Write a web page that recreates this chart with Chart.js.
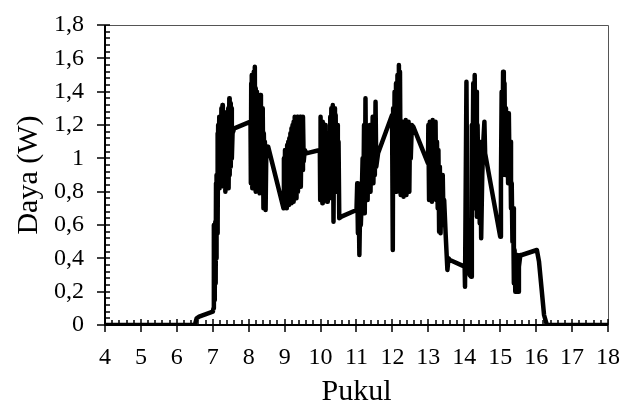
<!DOCTYPE html>
<html>
<head>
<meta charset="utf-8">
<script src="https://cdn.jsdelivr.net/npm/chart.js@4.4.1/dist/chart.umd.min.js"></script>
<style>
  body { margin: 0; background: #fff; }
  canvas { display: block; }
</style>
</head>
<body>
<canvas id="dayaChart" width="622" height="410"></canvas>
<script>
// jam (Pukul, decimal hours) and daya (W)
const jam = [
  4, 5, 6, 6.5, 6.55, 6.62, 7.0,
  7.02, 7.03, 7.04, 7.05, 7.06, 7.07, 7.08, 7.09, 7.10, 7.11, 7.12, 7.13, 7.14, 7.15, 7.16, 7.18, 7.19, 7.21, 7.22, 7.24,
  7.25, 7.27, 7.28, 7.30, 7.31, 7.33, 7.35, 7.37, 7.38, 7.40, 7.41, 7.43, 7.44, 7.46, 7.47, 7.49, 7.50, 7.52, 7.53, 7.55, 7.60,
  8.05, 8.06, 8.07, 8.08, 8.09, 8.10, 8.11, 8.12, 8.14, 8.15, 8.17, 8.18, 8.19, 8.20, 8.22, 8.23, 8.24, 8.26, 8.27, 8.29,
  8.30, 8.31, 8.33, 8.34, 8.36, 8.37, 8.39, 8.41, 8.42, 8.44, 8.45, 8.47, 8.49, 8.54,
  8.97, 8.98, 9.00, 9.01, 9.03, 9.04, 9.06, 9.07, 9.09, 9.10, 9.12, 9.13, 9.15, 9.16, 9.18, 9.19, 9.21, 9.22, 9.24, 9.25,
  9.27, 9.28, 9.30, 9.31, 9.33, 9.35, 9.37, 9.39, 9.41, 9.43, 9.45, 9.47, 9.49, 9.51, 9.53, 9.56, 9.60,
  9.98, 9.99, 10.00, 10.02, 10.03, 10.05, 10.06, 10.08, 10.09, 10.11, 10.13, 10.14, 10.16, 10.18, 10.20, 10.21, 10.23,
  10.25, 10.27, 10.28, 10.30, 10.32, 10.34, 10.36, 10.38, 10.40, 10.42, 10.44, 10.46, 10.48, 10.50, 10.52, 10.58,
  11.00, 11.02, 11.04, 11.06, 11.08, 11.10, 11.12, 11.14, 11.17, 11.19, 11.21, 11.23, 11.25, 11.27, 11.29, 11.31, 11.33,
  11.35, 11.37, 11.39, 11.41, 11.43, 11.45, 11.47, 11.49, 11.51, 11.53, 11.55, 11.60,
  11.99, 12.01, 12.02, 12.04, 12.06, 12.08, 12.10, 12.12, 12.14, 12.16, 12.18, 12.19, 12.21, 12.23, 12.25, 12.27, 12.29, 12.31,
  12.33, 12.35, 12.37, 12.39, 12.41, 12.43, 12.45, 12.47, 12.49, 12.51, 12.54, 12.58,
  12.99, 13.00, 13.02, 13.04, 13.06, 13.08, 13.10, 13.12, 13.14, 13.16, 13.18, 13.20, 13.22, 13.24, 13.26, 13.28, 13.30, 13.32,
  13.34, 13.36, 13.38, 13.40, 13.42, 13.44, 13.48, 13.53, 13.56, 13.60,
  14.01, 14.02, 14.06, 14.09, 14.12, 14.15, 14.19, 14.21, 14.23, 14.25, 14.27, 14.29, 14.31, 14.33, 14.35, 14.37, 14.39,
  14.41, 14.43, 14.45, 14.47, 14.50, 14.53, 14.56, 14.58,
  15.00, 15.02, 15.04, 15.06, 15.08, 15.10, 15.12, 15.14, 15.16, 15.18, 15.20, 15.22, 15.24, 15.26, 15.28, 15.30, 15.32,
  15.34, 15.36, 15.38, 15.40, 15.42, 15.44, 15.46, 15.48, 15.50, 15.52, 15.56, 15.60,
  16.02, 16.08, 16.15, 16.22, 16.30, 16.4, 17, 18
];
const daya = [
  0, 0, 0, 0, 0.04, 0.05, 0.08,
  0.10, 0.60, 0.15, 0.55, 0.20, 0.62, 0.25, 0.85, 0.40, 0.90, 0.55, 1.15, 0.60, 1.20, 0.85, 1.25, 0.82, 1.22, 0.88, 1.30,
  0.85, 1.32, 0.90, 1.28, 0.83, 1.15, 0.80, 1.20, 0.85, 1.25, 0.88, 1.30, 0.82, 1.36, 0.90, 1.33, 0.95, 1.30, 1.00, 1.15, 1.18,
  1.22, 0.85, 1.45, 0.90, 1.50, 0.82, 1.48, 0.95, 1.52, 0.85, 1.55, 0.90, 1.42, 0.80, 1.40, 0.88, 1.38, 0.82, 1.35, 0.95,
  1.30, 0.79, 1.38, 0.90, 1.25, 0.85, 1.30, 0.70, 1.15, 0.95, 1.10, 0.69, 1.05, 1.07,
  0.70, 1.00, 0.75, 1.05, 0.72, 1.02, 0.70, 1.08, 0.76, 1.10, 0.72, 1.12, 0.78, 1.15, 0.73, 1.18, 0.80, 1.20, 0.74, 1.22,
  0.78, 1.25, 0.83, 1.20, 0.76, 1.25, 0.80, 1.22, 0.88, 1.25, 0.83, 1.20, 0.93, 1.25, 0.98, 1.05, 1.03,
  1.05, 0.75, 1.25, 0.78, 1.20, 0.73, 1.22, 0.80, 1.15, 0.75, 1.20, 0.85, 1.10, 0.74, 1.15, 0.80, 1.05,
  0.76, 1.25, 0.85, 1.30, 0.90, 1.32, 0.62, 1.30, 0.85, 1.26, 0.80, 1.20, 0.90, 1.10, 0.64, 0.65,
  0.69, 0.85, 0.55, 0.75, 0.42, 0.70, 0.60, 0.72, 1.00, 0.75, 1.20, 0.67, 1.36, 0.80, 1.18, 0.75, 1.15,
  0.85, 1.20, 0.80, 1.10, 0.90, 1.25, 0.85, 1.15, 0.90, 1.34, 0.95, 1.03,
  1.26, 0.45, 1.30, 0.90, 1.40, 0.85, 1.45, 0.80, 1.50, 1.00, 1.56, 0.95, 1.52, 0.78, 1.20, 0.82, 1.22, 0.77,
  1.18, 0.80, 1.23, 0.78, 1.20, 0.85, 1.22, 0.80, 1.20, 1.00, 1.20, 1.19,
  0.97, 1.20, 0.75, 1.22, 0.78, 1.15, 0.74, 1.23, 0.85, 1.20, 0.80, 1.22, 0.75, 1.10, 0.70, 1.05, 0.56, 0.95,
  0.55, 0.85, 0.60, 0.90, 0.65, 0.75, 0.55, 0.33, 0.40, 0.39,
  0.35, 0.23, 1.46, 0.45, 0.38, 0.30, 0.29, 1.20, 0.90, 1.45, 0.70, 1.50, 0.80, 1.40, 0.65, 1.20, 0.85,
  1.10, 0.61, 0.95, 0.52, 0.90, 1.10, 1.22, 1.03,
  0.53, 0.85, 1.40, 0.90, 1.52, 1.00, 1.45, 0.90, 1.30, 1.05, 1.25, 0.85, 1.27, 0.90, 1.10, 0.70, 0.85,
  0.50, 0.70, 0.25, 0.45, 0.20, 0.40, 0.22, 0.42, 0.20, 0.35, 0.42, 0.42,
  0.45, 0.38, 0.22, 0.06, 0, 0, 0, 0
];
const xTicks = [4, 5, 6, 7, 8, 9, 10, 11, 12, 13, 14, 15, 16, 17, 18];
const yTicks = [0, 0.2, 0.4, 0.6, 0.8, 1, 1.2, 1.4, 1.6, 1.8];

const points = jam.map((j, i) => ({ x: j, y: daya[i] }));

// frame, axis lines and Excel-style crossing / minor tick marks
const frameTicks = {
  id: 'frameTicks',
  afterDraw(chart) {
    const { ctx, chartArea: a, scales: { x, y } } = chart;
    ctx.save();
    ctx.strokeStyle = '#555';
    ctx.lineWidth = 1;
    ctx.beginPath();
    ctx.moveTo(a.left, a.top + 0.5);
    ctx.lineTo(a.right + 0.5, a.top + 0.5);
    ctx.lineTo(a.right + 0.5, a.bottom);
    ctx.stroke();

    ctx.strokeStyle = '#000';
    ctx.lineWidth = 2;
    ctx.beginPath();
    ctx.moveTo(a.left, a.top);
    ctx.lineTo(a.left, a.bottom);
    ctx.lineTo(a.right, a.bottom);
    ctx.stroke();

    ctx.lineWidth = 1.5;
    ctx.beginPath();
    for (let v = 4; v <= 18.001; v += 0.2) {
      const px = Math.round(x.getPixelForValue(v));
      const major = Math.abs(v - Math.round(v)) < 0.01;
      ctx.moveTo(px, a.bottom + (major ? 7 : 0));
      ctx.lineTo(px, a.bottom - (major ? 6 : 5));
    }
    for (let v = 0; v <= 1.8001; v += 0.04) {
      const py = Math.round(y.getPixelForValue(v));
      const major = Math.abs(v * 5 - Math.round(v * 5)) < 0.01;
      ctx.moveTo(a.left - (major ? 8 : 0), py);
      ctx.lineTo(a.left + 5, py);
    }
    ctx.stroke();
    ctx.restore();
  }
};

Chart.defaults.font.family = '"Liberation Serif", "Times New Roman", serif';
Chart.defaults.color = '#000';

const ctx = document.getElementById('dayaChart').getContext('2d');
new Chart(ctx, {
  type: 'line',
  data: {
    datasets: [{
      data: points,
      borderColor: '#000',
      borderWidth: 4.5,
      pointRadius: 0,
      fill: false,
      tension: 0,
      borderJoinStyle: 'round',
      borderCapStyle: 'round'
    }]
  },
  options: {
    responsive: false,
    animation: false,
    layout: { padding: { top: 25, right: 14, left: 0, bottom: 0 } },
    plugins: { legend: { display: false }, tooltip: { enabled: false } },
    scales: {
      x: {
        type: 'linear',
        min: 4,
        max: 18,
        afterBuildTicks: (s) => { s.ticks = xTicks.map(v => ({ value: v })); },
        afterFit: (s) => { s.height = 85; s.paddingLeft = 0; s.paddingRight = 0; },
        grid: { display: false, drawTicks: false },
        border: { display: false },
        ticks: { font: { size: 24 }, padding: 18, maxRotation: 0, autoSkip: false },
        title: { display: true, text: 'Pukul', font: { size: 30 }, padding: { bottom: 0 } }
      },
      y: {
        min: 0,
        max: 1.8,
        afterBuildTicks: (s) => { s.ticks = yTicks.map(v => ({ value: v })); },
        afterFit: (s) => { s.width = 105; s.paddingTop = 0; s.paddingBottom = 0; },
        grid: { display: false, drawTicks: false },
        border: { display: false },
        ticks: {
          font: { size: 24 },
          padding: 21,
          autoSkip: false,
          callback: (v) => String(Math.round(v * 10) / 10).replace('.', ',')
        },
        title: { display: true, text: 'Daya (W)', font: { size: 30 }, padding: { top: 11 } }
      }
    }
  },
  plugins: [frameTicks]
});
</script>
</body>
</html>
